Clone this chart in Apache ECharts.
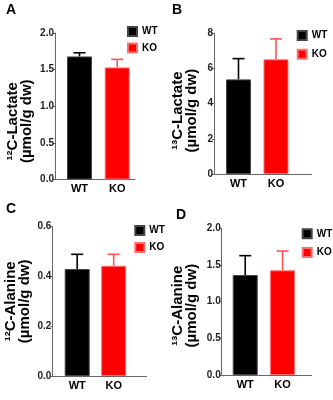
<!DOCTYPE html>
<html>
<head>
<meta charset="utf-8">
<script src="https://cdn.jsdelivr.net/npm/echarts@6/dist/echarts.min.js"></script>
<style>
  html, body { margin: 0; padding: 0; background: #fff; }
  #chart { width: 333px; height: 400px; }
</style>
</head>
<body>
<div id="chart"></div>
<script>
// groups, drawn at x = 1 and x = 2
var groups = ['WT', 'KO'];
var panelLetters = ['A', 'B', 'C', 'D'];
var axisTitles = [
    '\u00b9\u00b2C-Lactate\n(\u00b5mol/g dw)',
    '\u00b9\u00b3C-Lactate\n(\u00b5mol/g dw)',
    '\u00b9\u00b2C-Alanine\n(\u00b5mol/g dw)',
    '\u00b9\u00b3C-Alanine\n(\u00b5mol/g dw)'
];
// mean values [WT, KO]
var meanA = [1.68, 1.53];
var meanB = [5.38, 6.52];
var meanC = [0.43, 0.443];
var meanD = [1.363, 1.427];
// mean + SEM (top of the error bar)
var errA = [1.73, 1.64];
var errB = [6.56, 7.68];
var errC = [0.489, 0.489];
var errD = [1.627, 1.69];
// y axis ranges
var yMax = [2, 8, 0.6, 2];
var yStep = [0.5, 2, 0.2, 0.5];
var yDigits = [1, 0, 1, 1];

var means = [meanA, meanB, meanC, meanD];
var errs = [errA, errB, errC, errD];

var grids = [
    {left: 55, top: 33, width: 80, height: 146.5},
    {left: 214, top: 33.3, width: 97.7, height: 140.7},
    {left: 52.3, top: 226.7, width: 94.4, height: 149.3},
    {left: 221.7, top: 228.3, width: 90, height: 146.7}
];
grids.forEach(function (g) { g.outerBoundsMode = 'none'; g.containLabel = false; });
var xRange = [[0.35, 2.472], [0.347, 2.952], [0.318, 2.904], [0.37, 2.78]];
var nameGaps = [21, 15, 20, 23];
var namePads = [[0, 30, 0, 0], [0, 14, 0, 0], [0, 0, 0, 0], [0, 8, 0, 0]];
var legendPos = [[127, 26, 5.5], [296.7, 30, 7.7], [134.3, 225, 6], [301.7, 228.3, 7.7]];
var letterPos = [[6, 3], [172, 3], [6, 202], [176, 208]];

var colors = ['#000000', '#ff0000'];
var borders = ['#444444', '#ff7070'];
var errColors = ['#000000', '#ff5252'];

var xAxes = [], yAxes = [], series = [], legends = [], titles = [];

for (var p = 0; p < 4; p++) {
    xAxes.push({
        type: 'value',
        gridIndex: p,
        min: xRange[p][0],
        max: xRange[p][1],
        splitLine: {show: false},
        axisLine: {onZero: false, lineStyle: {color: '#666', width: 1}},
        axisTick: {show: false},
        axisLabel: {
            customValues: [1, 2],
            margin: 4,
            color: '#000',
            fontSize: 11,
            fontWeight: 'bold',
            fontFamily: 'Liberation Sans, Arial',
            formatter: function (v) { return groups[Math.round(v) - 1]; }
        }
    });
    (function (d) {
        yAxes.push({
            type: 'value',
            gridIndex: p,
            min: 0,
            max: yMax[p],
            interval: yStep[p],
            splitLine: {show: false},
            axisLine: {show: true, onZero: false, lineStyle: {color: '#666', width: 1}},
            axisTick: {show: true, length: 2, lineStyle: {color: '#666'}},
            axisLabel: {
                margin: 1,
                color: '#222',
                fontSize: 10,
                fontWeight: 'bold',
                fontFamily: 'Liberation Sans, Arial',
                formatter: function (v) { return v.toFixed(d); }
            },
            name: axisTitles[p],
            nameLocation: 'middle',
            nameRotate: 90,
            nameGap: nameGaps[p],
            nameMoveOverlap: false,
            nameTextStyle: {
                color: '#000',
                fontSize: 15,
                fontWeight: 'bold',
                fontFamily: 'Liberation Sans, Arial',
                lineHeight: 14,
                padding: namePads[p]
            }
        });
    })(yDigits[p]);

    for (var g = 0; g < 2; g++) {
        series.push({
            name: groups[g],
            type: 'bar',
            xAxisIndex: p,
            yAxisIndex: p,
            barWidth: 25,
            barGap: '-100%',
            itemStyle: {color: colors[g], borderColor: borders[g], borderWidth: 1},
            data: [[g + 1, means[p][g]]]
        });
    }
    (function (pi) {
        series.push({
            type: 'custom',
            xAxisIndex: pi,
            yAxisIndex: pi,
            z: 1,
            data: groups.map(function (name, i) { return [i + 1, means[pi][i], errs[pi][i], i]; }),
            renderItem: function (params, api) {
                var base = api.coord([api.value(0), api.value(1)]);
                var top = api.coord([api.value(0), api.value(2)]);
                var c = errColors[api.value(3)];
                var half = 6;
                return {
                    type: 'group',
                    children: [
                        {type: 'line', shape: {x1: base[0], y1: base[1], x2: top[0], y2: top[1]},
                         style: {stroke: c, lineWidth: 1.6}},
                        {type: 'line', shape: {x1: top[0] - half, y1: top[1], x2: top[0] + half, y2: top[1]},
                         style: {stroke: c, lineWidth: 1.6}}
                    ]
                };
            }
        });
    })(p);

    legends.push({
        data: groups,
        orient: 'vertical',
        left: legendPos[p][0],
        top: legendPos[p][1],
        itemGap: legendPos[p][2],
        itemWidth: 9,
        itemHeight: 9,
        icon: 'rect',
        selectedMode: false,
        padding: 0,
        textStyle: {
            color: '#000',
            fontSize: 10,
            fontWeight: 'bold',
            fontFamily: 'Liberation Sans, Arial',
            lineHeight: 9
        }
    });
    titles.push({
        text: panelLetters[p],
        left: letterPos[p][0],
        top: letterPos[p][1],
        padding: 0,
        textStyle: {
            color: '#000',
            fontSize: 14,
            fontWeight: 'bold',
            fontFamily: 'Liberation Sans, Arial'
        }
    });
}

var chart = echarts.init(document.getElementById('chart'));
chart.setOption({
    backgroundColor: '#FFFFFF',
    animation: false,
    title: titles,
    legend: legends,
    grid: grids,
    xAxis: xAxes,
    yAxis: yAxes,
    series: series
});
</script>
</body>
</html>
